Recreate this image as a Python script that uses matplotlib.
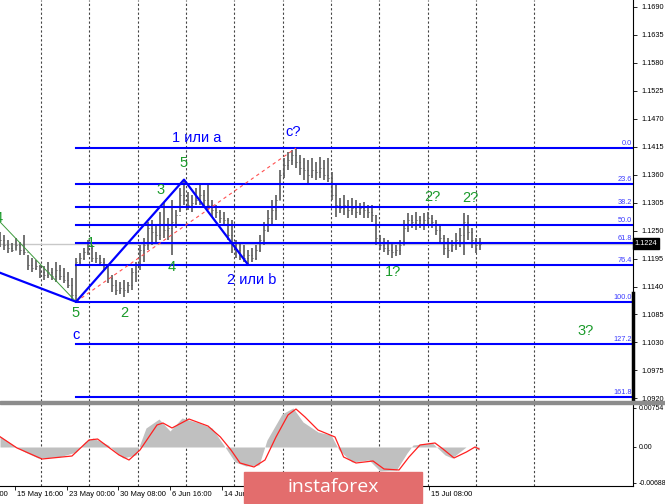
import matplotlib.pyplot as plt
from matplotlib.patches import Rectangle
from matplotlib.transforms import blended_transform_factory

# price bars (one bar per x step)
highs = [1.1247, 1.1241, 1.1232, 1.1226, 1.1236, 1.1228, 1.1241, 1.1202, 1.1196, 1.1192,
         1.1183, 1.1181, 1.1188, 1.1177, 1.1188, 1.1183, 1.1177, 1.1169, 1.1157, 1.1196,
         1.1206, 1.1216, 1.1232, 1.1222, 1.1208, 1.1202, 1.1196, 1.1183, 1.1163, 1.1153,
         1.1149, 1.1153, 1.1149, 1.1177, 1.1188, 1.1222, 1.1236, 1.1267, 1.1271, 1.1261,
         1.1287, 1.1306, 1.1275, 1.1310, 1.1291, 1.1334, 1.1350, 1.1326, 1.1320, 1.1334,
         1.1340, 1.1330, 1.1344, 1.1310, 1.1300, 1.1291, 1.1287, 1.1275, 1.1271, 1.1232,
         1.1226, 1.1222, 1.1212, 1.1216, 1.1222, 1.1241, 1.1267, 1.1291, 1.1310, 1.1320,
         1.1369, 1.1393, 1.1405, 1.1408, 1.1412, 1.1399, 1.1393, 1.1389, 1.1393, 1.1385,
         1.1395, 1.1389, 1.1393, 1.1365, 1.1340, 1.1314, 1.1320, 1.1310, 1.1314, 1.1310,
         1.1304, 1.1306, 1.1300, 1.1300, 1.1281, 1.1241, 1.1236, 1.1232, 1.1226, 1.1222,
         1.1232, 1.1271, 1.1285, 1.1281, 1.1287, 1.1279, 1.1285, 1.1287, 1.1281, 1.1271,
         1.1261, 1.1241, 1.1236, 1.1232, 1.1245, 1.1255, 1.1285, 1.1281, 1.1255, 1.1236,
         1.1236]
lows = [1.1218, 1.1212, 1.1206, 1.1208, 1.1212, 1.1202, 1.1202, 1.1173, 1.1169, 1.1173,
        1.1157, 1.1153, 1.1157, 1.1153, 1.1149, 1.1153, 1.1147, 1.1137, 1.1114, 1.1110,
        1.1181, 1.1192, 1.1202, 1.1188, 1.1186, 1.1183, 1.1173, 1.1147, 1.1130, 1.1124,
        1.1126, 1.1120, 1.1128, 1.1133, 1.1149, 1.1173, 1.1188, 1.1212, 1.1222, 1.1228,
        1.1232, 1.1236, 1.1232, 1.1202, 1.1255, 1.1287, 1.1300, 1.1291, 1.1287, 1.1300,
        1.1300, 1.1297, 1.1291, 1.1277, 1.1275, 1.1265, 1.1261, 1.1232, 1.1206, 1.1196,
        1.1192, 1.1188, 1.1183, 1.1188, 1.1192, 1.1208, 1.1222, 1.1247, 1.1261, 1.1271,
        1.1310, 1.1353, 1.1369, 1.1379, 1.1373, 1.1359, 1.1350, 1.1344, 1.1353, 1.1350,
        1.1353, 1.1350, 1.1346, 1.1310, 1.1277, 1.1285, 1.1281, 1.1275, 1.1281, 1.1275,
        1.1281, 1.1275, 1.1275, 1.1267, 1.1222, 1.1212, 1.1208, 1.1202, 1.1196, 1.1200,
        1.1202, 1.1222, 1.1247, 1.1255, 1.1251, 1.1255, 1.1251, 1.1261, 1.1255, 1.1241,
        1.1228, 1.1202, 1.1196, 1.1208, 1.1212, 1.1218, 1.1202, 1.1232, 1.1216, 1.1206,
        1.1212]
closes = [1.1232, 1.1222, 1.1216, 1.1212, 1.1222, 1.1212, 1.1208, 1.1183, 1.1177, 1.1181,
          1.1169, 1.1163, 1.1169, 1.1161, 1.1173, 1.1161, 1.1153, 1.1143, 1.1124, 1.1188,
          1.1196, 1.1208, 1.1216, 1.1196, 1.1196, 1.1188, 1.1183, 1.1157, 1.1143, 1.1133,
          1.1137, 1.1133, 1.1143, 1.1169, 1.1183, 1.1212, 1.1222, 1.1255, 1.1247, 1.1241,
          1.1261, 1.1251, 1.1255, 1.1267, 1.1281, 1.1320, 1.1310, 1.1300, 1.1304, 1.1310,
          1.1320, 1.1310, 1.1300, 1.1291, 1.1287, 1.1275, 1.1271, 1.1241, 1.1222, 1.1212,
          1.1202, 1.1196, 1.1202, 1.1196, 1.1212, 1.1232, 1.1251, 1.1275, 1.1291, 1.1310,
          1.1359, 1.1379, 1.1389, 1.1399, 1.1385, 1.1373, 1.1369, 1.1359, 1.1369, 1.1365,
          1.1373, 1.1359, 1.1353, 1.1320, 1.1300, 1.1295, 1.1300, 1.1291, 1.1295, 1.1287,
          1.1295, 1.1291, 1.1287, 1.1281, 1.1236, 1.1222, 1.1216, 1.1212, 1.1208, 1.1212,
          1.1222, 1.1255, 1.1271, 1.1267, 1.1271, 1.1261, 1.1271, 1.1275, 1.1267, 1.1251,
          1.1236, 1.1216, 1.1212, 1.1222, 1.1232, 1.1241, 1.1267, 1.1247, 1.1232, 1.1222,
          1.1224]
last_price = 1.1224

# fibonacci grid
fib_high = 1.1412
fib_low = 1.1110
fib_levels = [0.0, 23.6, 38.2, 50.0, 61.8, 76.4, 100.0, 127.2, 161.8]
fib_start = 19

# wave lines
wave_x = [0, 19, 46, 62]
wave_p = [1.1167, 1.1110, 1.1350, 1.1183]
green_x = [0, 19]
green_p = [1.1267, 1.1110]
red_x = [19, 74]
red_p = [1.1110, 1.1412]

# wave labels
lab_text = ['1 или a', 'c?', '5', '3', '1', '4', '2 или b', '5', '2', 'c', '4',
            '1?', '2?', '2?', '3?']
lab_x = [49.25, 73.25, 46, 40.25, 22.75, 43, 63, 19, 31, 19, -0.3,
         98.25, 108, 117.5, 146.5]
lab_y = [1.1432, 1.1444, 1.1383, 1.1330, 1.1226, 1.1179, 1.1153, 1.1088, 1.1088, 1.1045, 1.1275,
         1.1169, 1.1316, 1.1314, 1.1053]
lab_blue = [True, True, False, False, False, False, True, False, False, True, False,
            False, False, False, False]

price_ticks = ['1.1690', '1.1635', '1.1580', '1.1525', '1.1470', '1.1415', '1.1360', '1.1305',
               '1.1250', '1.1195', '1.1140', '1.1085', '1.1030', '1.0975', '1.0920']

# oscillator: histogram and signal line
hist_x = [0, 3.25, 6.25, 9.5, 14.75, 19, 21.25, 23.25, 27, 30.75, 34, 36.5, 39.75, 42.5,
          45.5, 49.75, 53, 56.25, 58.75, 61.5, 64.75, 66.75, 70.5, 73.25, 75.75, 79.5,
          82.75, 84.75, 88, 92.25, 95, 99.1, 101.75, 103.25, 108.1, 111.25, 113, 116.5,
          118.25, 119.75]
hist_v = [0.00212, 0.00039, -0.00097, -0.00212, -0.00193, -0.00097, 0.00097, 0.00174,
          0.00039, -0.00212, -0.00154, 0.00367, 0.00540, 0.00309, 0.00560, 0.00463,
          0.00367, 0.0, -0.00290, -0.00367, -0.00347, 0.00135, 0.00637, 0.00753, 0.00483,
          0.00290, 0.00232, -0.00058, -0.00290, -0.00251, -0.00463, -0.00444, -0.00116,
          0.00039, 0.00077, -0.00154, -0.00212, 0.0, 0.0, -0.00058]
sig_x = [0, 4.25, 10.5, 18, 22.25, 24.4, 29.75, 32.25, 35, 39.25, 40.75, 43, 47.25, 52,
         55.1, 57.75, 60, 63.5, 66.25, 69, 72, 74, 76.25, 79.5, 83.75, 85.9, 89, 93.25,
         96, 99.75, 102.25, 105, 108.75, 110.75, 113.5, 116.6, 118.75, 119.75]
sig_v = [0.00199, -0.00019, -0.00232, -0.00174, 0.00135, 0.00154, -0.00154, -0.00251,
         -0.00058, 0.00425, 0.00463, 0.00367, 0.00540, 0.00405, 0.00193, -0.00058,
         -0.00309, -0.00386, -0.00251, 0.00193, 0.00618, 0.00733, 0.00579, 0.00328,
         0.00193, -0.00193, -0.00309, -0.00270, -0.00425, -0.00444, -0.00193, 0.00039,
         0.00077, -0.00039, -0.00212, -0.00097, 0.0, -0.00039]
osc_ticks = ['0.00754', '0.00', '-0.00688']

date_x = [-9.0, 3.75, 16.75, 29.5, 42.5, 55.5, 107.25]
date_labels = ['8 May 08:00', '15 May 16:00', '23 May 00:00', '30 May 08:00',
               '6 Jun 16:00', '14 Jun 00:00', '15 Jul 08:00']
grid_x = [10.125, 22.25, 34.375, 46.375, 58.5, 70.625, 82.625, 94.75, 106.875, 118.875, 133.5]

W, H = 665, 504
fig = plt.figure(figsize=(W / 100, H / 100), dpi=100)
ax = fig.add_axes([0, 1 - 401 / H, 633 / W, 401 / H])
ax2 = fig.add_axes([0, 1 - 486 / H, 633 / W, 82 / H])

font = 'Liberation Sans'
blue = '#0000ff'
green = '#1a9a2a'
xmax = 158.25

# ---- main price panel
ax.set_xlim(0, xmax)
ax.set_ylim(1.0915, 1.1703)
for g in grid_x:
    ax.axvline(g, color='#444444', lw=0.8, ls=(0, (2, 2)), zorder=1)
ax.axhline(last_price, color='#c8c8c8', lw=1, zorder=1)

idx = list(range(len(closes)))
opens = [closes[0]] + closes[:-1]
bar_col = '#5a5a5a'
ax.vlines(idx, lows, highs, color=bar_col, lw=1.2, zorder=2)
ax.hlines(opens, [i - 0.3 for i in idx], idx, color=bar_col, lw=0.7, zorder=2)
ax.hlines(closes, idx, [i + 0.3 for i in idx], color=bar_col, lw=0.7, zorder=2)

rng = fib_high - fib_low
for lv in fib_levels:
    p = fib_high - lv / 100 * rng
    ax.plot([fib_start, xmax], [p, p], color=blue, lw=1.5, zorder=3)
    ax.text(xmax - 0.3, p + 0.0002, f'{lv:.1f}', color='#3a3aff', fontsize=5.3,
            family=font, ha='right', va='bottom', zorder=4)

ax.plot(green_x, green_p, color='#3c9a3c', lw=0.7, zorder=3)
ax.plot(red_x, red_p, color='#ff5050', lw=0.8, ls=(0, (3, 3)), zorder=3)
ax.plot(wave_x, wave_p, color=blue, lw=1.6, zorder=4)

for t, x, y, b in zip(lab_text, lab_x, lab_y, lab_blue):
    ax.text(x, y, t, color=blue if b else green, fontsize=10.5, family=font,
            ha='center', va='center', zorder=5, clip_on=True)

for s in ['top', 'left', 'bottom']:
    ax.spines[s].set_visible(False)
ax.spines['right'].set_linewidth(0.8)
ax.set_xticks([])
ax.yaxis.tick_right()
ax.set_yticks([float(t) for t in price_ticks])
ax.set_yticklabels(price_ticks)
ax.tick_params(axis='y', length=3, width=0.6, labelsize=5.3, pad=3)
for lbl in ax.get_yticklabels():
    lbl.set_family(font)

tr = blended_transform_factory(ax.transAxes, ax.transData)
ax.text(1.003, last_price, f'{last_price:.4f}', transform=tr, color='white', fontsize=5.3,
        family=font, ha='left', va='center',
        bbox=dict(boxstyle='square,pad=0.25', fc='black', ec='black'), zorder=6)
ax.plot([1.0, 1.0], [1.1127, 1.0915], transform=tr, color='black', lw=2.5,
        clip_on=False, zorder=6)

# ---- oscillator panel
ax2.set_xlim(0, xmax)
ax2.set_ylim(-0.00753, 0.0083)
for g in grid_x:
    ax2.axvline(g, color='#444444', lw=0.8, ls=(0, (2, 2)), zorder=1)
ax2.fill_between(hist_x, 0, hist_v, color='#c0c0c0', lw=0, zorder=2)
ax2.plot(sig_x, sig_v, color='#ff2020', lw=0.9, zorder=3)

for s in ['top', 'left']:
    ax2.spines[s].set_visible(False)
ax2.spines['right'].set_linewidth(0.8)
ax2.spines['bottom'].set_linewidth(0.8)
ax2.yaxis.tick_right()
ax2.set_yticks([float(t) for t in osc_ticks])
ax2.set_yticklabels(osc_ticks)
ax2.tick_params(axis='y', length=2.5, width=0.6, labelsize=5.0, pad=1.5)
for lbl in ax2.get_yticklabels():
    lbl.set_family(font)
ax2.set_xticks([d for d in date_x if d >= 0])
ax2.set_xticklabels([])
ax2.tick_params(axis='x', length=3, width=0.6)
trx = blended_transform_factory(ax2.transData, ax2.transAxes)
for d, t in zip(date_x, date_labels):
    ax2.text(d + 0.5, -0.1, t, transform=trx, fontsize=5.5, family=font,
             ha='left', va='center', clip_on=False)

# separator between panels
fig.add_artist(Rectangle((0, 1 - 404 / H), 1, 3 / H, transform=fig.transFigure,
                         color='#8c8c8c', zorder=10))

# watermark banner
fig.add_artist(Rectangle((244 / W, 1 - 503 / H), 178 / W, 31 / H, transform=fig.transFigure,
                         color='#e36d6d', zorder=20))
fig.text(333 / W, 1 - 487 / H, 'instaforex', color='white', fontsize=14,
         family='Open Sans', ha='center', va='center', zorder=21)

fig.savefig('out.png', dpi=100)
